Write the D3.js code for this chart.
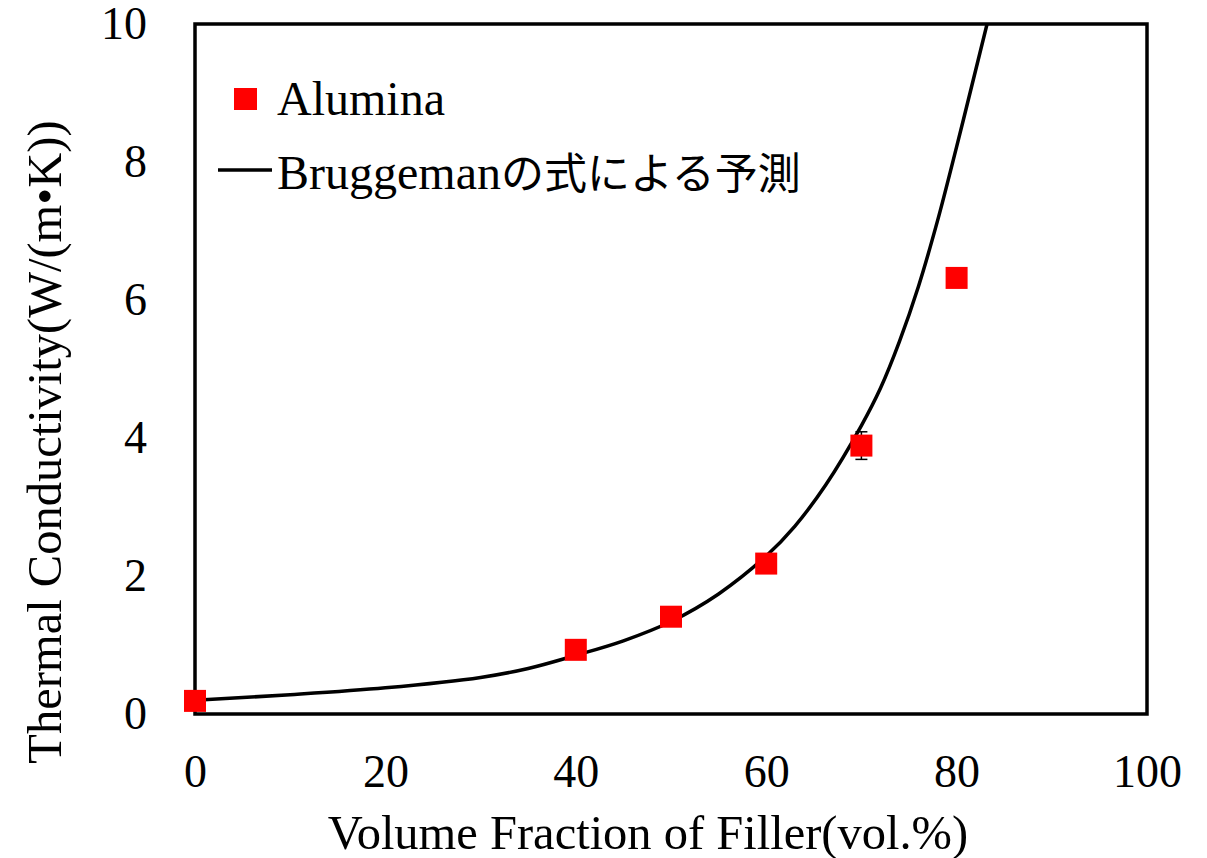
<!DOCTYPE html>
<html>
<head>
<meta charset="utf-8">
<script src="https://cdn.jsdelivr.net/npm/d3@7/dist/d3.min.js"></script>
<style>
  html, body { margin: 0; padding: 0; background: #fff; }
  svg { display: block; }
  .serif { font-family: "Liberation Serif", "Times New Roman", serif; }
</style>
</head>
<body>
<svg id="chart" width="1207" height="858"></svg>
<script>
// Measured thermal conductivity of alumina-filled samples
const fillerFraction = [0, 40, 50, 60, 70, 80];               // vol.%
const conductivity   = [0.19, 0.93, 1.41, 2.18, 3.89, 6.32];  // W/(m·K)
const errorHalf      = [0, 0, 0, 0, 0.2, 0];

// Bruggeman prediction curve, sampled
const modelFraction     = [0, 10, 20, 30, 35, 40, 45, 50, 55, 60, 63, 66.3, 70, 72, 74, 76, 78, 80, 82, 83.2];
const modelConductivity = [0.20, 0.28, 0.38, 0.53, 0.66, 0.85, 1.06, 1.34, 1.74, 2.29, 2.72, 3.33, 4.18, 4.72, 5.4, 6.2, 7.15, 8.22, 9.33, 10];

const xTicks = [0, 20, 40, 60, 80, 100];
const yTicks = [0, 2, 4, 6, 8, 10];

const xTitle = "Volume Fraction of Filler(vol.%)";
const yTitle = "Thermal Conductivity(W/(m\u2022K))";
const seriesNames = ["Alumina", "Bruggeman", "\u306E\u5F0F\u306B\u3088\u308B\u4E88\u6E2C"];

const svg = d3.select("#chart");
const plot = { left: 195, top: 24, right: 1147, bottom: 714 };

const x = d3.scaleLinear().domain([0, 100]).range([plot.left, plot.right]);
const y = d3.scaleLinear().domain([0, 10]).range([plot.bottom, plot.top]);

const tickFont = 46;
const titleFont = 48.5;
const legendFont = 48;

// x axis labels
const xAxis = svg.append("g")
  .attr("transform", `translate(0,${plot.bottom})`)
  .call(d3.axisBottom(x).tickValues(xTicks).tickSize(0).tickPadding(40).tickFormat(d3.format("d")));
xAxis.select(".domain").remove();
xAxis.selectAll("text").attr("class", "serif").attr("font-size", tickFont).attr("fill", "#000");

// y axis labels
const yAxis = svg.append("g")
  .attr("transform", `translate(${plot.left},0)`)
  .call(d3.axisLeft(y).tickValues(yTicks).tickSize(0).tickPadding(48).tickFormat(d3.format("d")));
yAxis.select(".domain").remove();
yAxis.selectAll("text").attr("class", "serif").attr("font-size", tickFont).attr("fill", "#000");

// clip for the curve
svg.append("clipPath").attr("id", "plotClip")
  .append("rect")
  .attr("x", plot.left).attr("y", plot.top)
  .attr("width", plot.right - plot.left).attr("height", plot.bottom - plot.top);

// Bruggeman curve
const modelData = modelFraction.map((f, i) => ({ f, k: modelConductivity[i] }));
svg.append("path")
  .datum(modelData)
  .attr("clip-path", "url(#plotClip)")
  .attr("fill", "none")
  .attr("stroke", "#000")
  .attr("stroke-width", 3.5)
  .attr("d", d3.line().x(d => x(d.f)).y(d => y(d.k)).curve(d3.curveCatmullRom.alpha(0.5)));

// error bars
const measured = fillerFraction.map((f, i) => ({ f, k: conductivity[i], e: errorHalf[i] }));
const eb = svg.append("g").selectAll("g").data(measured.filter(d => d.e > 0)).join("g")
  .attr("stroke", "#000").attr("stroke-width", 1.5);
eb.append("line")
  .attr("x1", d => x(d.f)).attr("x2", d => x(d.f))
  .attr("y1", d => y(d.k - d.e)).attr("y2", d => y(d.k + d.e));
eb.append("line")
  .attr("x1", d => x(d.f) - 6).attr("x2", d => x(d.f) + 6)
  .attr("y1", d => y(d.k + d.e)).attr("y2", d => y(d.k + d.e));
eb.append("line")
  .attr("x1", d => x(d.f) - 6).attr("x2", d => x(d.f) + 6)
  .attr("y1", d => y(d.k - d.e)).attr("y2", d => y(d.k - d.e));

// frame
svg.append("rect")
  .attr("x", plot.left).attr("y", plot.top)
  .attr("width", plot.right - plot.left).attr("height", plot.bottom - plot.top)
  .attr("fill", "none").attr("stroke", "#000").attr("stroke-width", 3.5);

// square markers
const sq = 22;
svg.append("g").selectAll("rect").data(measured).join("rect")
  .attr("x", d => x(d.f) - sq / 2)
  .attr("y", d => y(d.k) - sq / 2)
  .attr("width", sq).attr("height", sq)
  .attr("fill", "#ff0000");

// axis titles
svg.append("text")
  .attr("class", "serif")
  .attr("x", 648)
  .attr("y", 849)
  .attr("text-anchor", "middle")
  .attr("font-size", titleFont)
  .text(xTitle);

svg.append("text")
  .attr("class", "serif")
  .attr("transform", "translate(61,442) rotate(-90)")
  .attr("text-anchor", "middle")
  .attr("font-size", titleFont)
  .text(yTitle);

// legend
const legend = svg.append("g");
legend.append("rect")
  .attr("x", 234).attr("y", 88).attr("width", 23).attr("height", 22)
  .attr("fill", "#ff0000");
legend.append("text")
  .attr("class", "serif")
  .attr("x", 277).attr("y", 115)
  .attr("font-size", legendFont)
  .text(seriesNames[0]);
legend.append("line")
  .attr("x1", 218).attr("x2", 272).attr("y1", 170).attr("y2", 170)
  .attr("stroke", "#000").attr("stroke-width", 3.5);
const t2 = legend.append("text")
  .attr("x", 277).attr("y", 189)
  .attr("font-size", legendFont);
t2.append("tspan")
  .attr("font-family", '"Liberation Serif", serif')
  .text(seriesNames[1]);
t2.append("tspan")
  .attr("font-family", '"Noto Sans CJK JP", sans-serif')
  .attr("font-size", 43)
  .text(seriesNames[2]);
</script>
</body>
</html>
